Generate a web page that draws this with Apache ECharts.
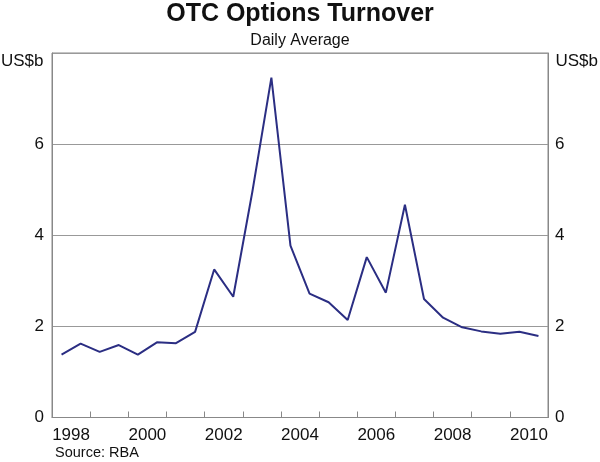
<!DOCTYPE html>
<html>
<head>
<meta charset="utf-8">
<script src="https://cdn.jsdelivr.net/npm/echarts@6/dist/echarts.min.js"></script>
<style>html,body{margin:0;padding:0;background:#fff}#c{width:600px;height:462px}</style>
</head>
<body>
<div id="c"></div>
<script>
// Survey dates (decimal years: April and October of each year)
var dates = [1998.25, 1998.75, 1999.25, 1999.75, 2000.25, 2000.75, 2001.25, 2001.75,
             2002.25, 2002.75, 2003.25, 2003.75, 2004.25, 2004.75, 2005.25, 2005.75,
             2006.25, 2006.75, 2007.25, 2007.75, 2008.25, 2008.75, 2009.25, 2009.75,
             2010.25, 2010.75];
// OTC options turnover, daily average, US$b
var turnover = [1.38, 1.62, 1.44, 1.59, 1.38, 1.65, 1.63, 1.88,
                3.25, 2.65, 4.95, 7.46, 3.77, 2.72, 2.53, 2.14,
                3.52, 2.74, 4.67, 2.60, 2.19, 1.98, 1.89, 1.84,
                1.88, 1.79];
// Year categories for x-axis labels
var yearLabels = ['1998','1999','2000','2001','2002','2003','2004','2005','2006','2007','2008','2009','2010'];
var yTicks = [0, 2, 4, 6, 8];

var FONT = 'Liberation Sans, Arial, sans-serif';
var chart = echarts.init(document.getElementById('c'), null, {renderer: 'canvas'});
var seriesData = dates.map(function (d, i) { return [d, turnover[i]]; });

chart.setOption({
  animation: false,
  title: [
    {text: 'OTC Options Turnover', left: 'center', top: -3,
     textStyle: {fontFamily: FONT, fontSize: 25, fontWeight: 'bold', color: '#111'}},
    {text: 'Daily Average', left: 'center', top: 28,
     textStyle: {fontFamily: FONT, fontSize: 16, fontWeight: 'normal', color: '#111'}}
  ],
  grid: {left: 52, right: 52, top: 53, bottom: 44.5, show: true, borderColor: '#888', borderWidth: 1},
  xAxis: [
    {type: 'value', min: 1998, max: 2011, interval: 1,
     axisLine: {show: true, lineStyle: {color: '#888', width: 1}},
     axisTick: {show: true, inside: true, length: 6, lineStyle: {color: '#888'}},
     axisLabel: {show: false}, splitLine: {show: false}},
    {type: 'category', position: 'bottom', data: yearLabels, boundaryGap: true,
     axisLine: {show: false}, axisTick: {show: false},
     axisLabel: {interval: 1, margin: 9, fontFamily: FONT, fontSize: 17, color: '#111'}}
  ],
  yAxis: [
    {type: 'value', position: 'left', min: yTicks[0], max: yTicks[yTicks.length - 1], interval: 2,
     axisLine: {show: true, lineStyle: {color: '#888'}}, axisTick: {show: false},
     axisLabel: {margin: 8, fontFamily: FONT, fontSize: 17, color: '#111',
                 formatter: function (v) { return v === 8 ? '' : String(v); }},
     splitLine: {show: true, lineStyle: {color: '#999', width: 1}}},
    {type: 'value', position: 'right', min: yTicks[0], max: yTicks[yTicks.length - 1], interval: 2,
     axisLine: {show: true, lineStyle: {color: '#888'}}, axisTick: {show: false},
     axisLabel: {margin: 7, fontFamily: FONT, fontSize: 17, color: '#111',
                 formatter: function (v) { return v === 8 ? '' : String(v); }},
     splitLine: {show: false}}
  ],
  graphic: [
    {type: 'text', left: 1, top: 53, style: {text: 'US$b', font: '17px ' + FONT, fill: '#111'}},
    {type: 'text', right: 2, top: 53, style: {text: 'US$b', font: '17px ' + FONT, fill: '#111'}},
    {type: 'text', left: 55, top: 445, style: {text: 'Source: RBA', font: '14.5px ' + FONT, fill: '#111'}}
  ],
  series: [{
    type: 'line', xAxisIndex: 0, yAxisIndex: 0, data: seriesData,
    symbol: 'none', lineStyle: {color: '#2b2e83', width: 2}
  }]
});
</script>
</body>
</html>
